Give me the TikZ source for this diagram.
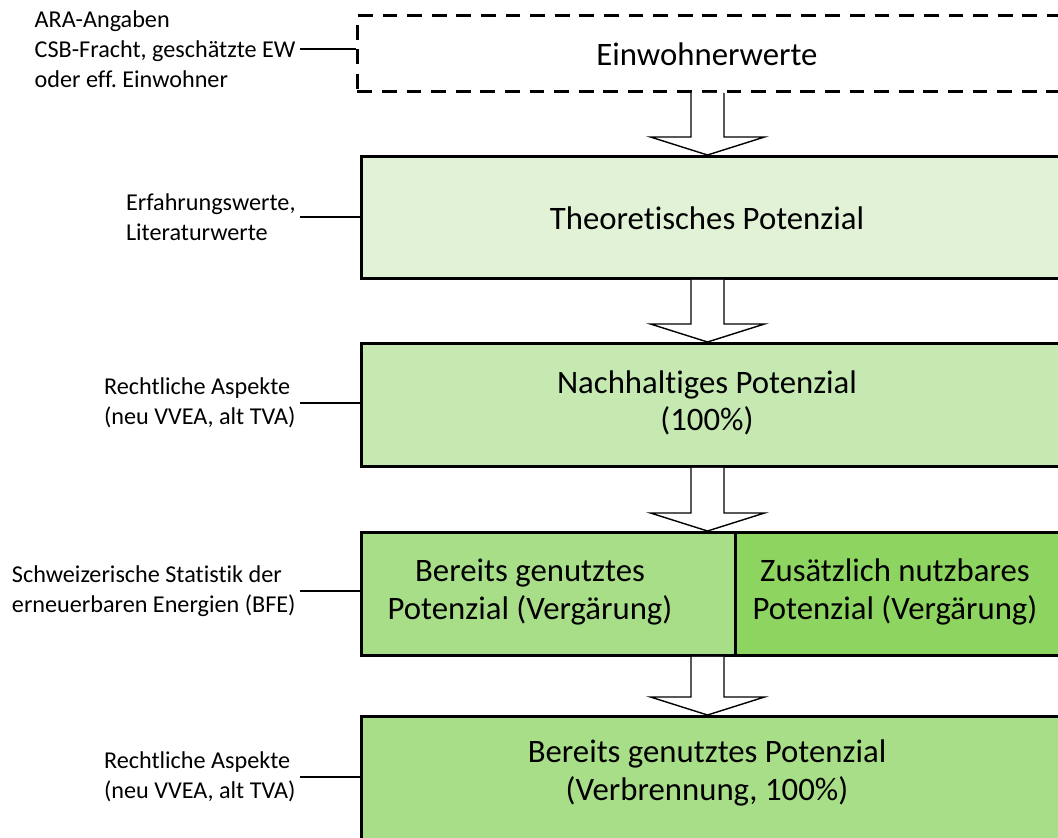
\documentclass[tikz,border=0pt]{standalone}
\usepackage{fontspec}
\setmainfont{Carlito}[Ligatures={NoCommon}]
\usetikzlibrary{calc}
\frenchspacing
\definecolor{cTheo}{HTML}{E2F2D6}
\definecolor{cNach}{HTML}{C6E9B2}
\definecolor{cBer}{HTML}{A9DE88}
\definecolor{cZus}{HTML}{8ED460}
\newcommand\blockarrow[2]{%
  \draw[barrow] ($(#1.south -| ax)+(-16.5,0)$) -- ($(#2.north -| ax)+(-16.5,-18)$)
    -- ($(#2.north -| ax)+(-57,-18)$) -- (#2.north -| ax)
    -- ($(#2.north -| ax)+(57,-18)$) -- ($(#2.north -| ax)+(16.5,-18)$)
    -- ($(#1.south -| ax)+(16.5,0)$);}
\begin{document}
\begin{tikzpicture}[x=0.025cm,y=-0.025cm,
  box/.style={draw=black, line width=2pt, inner sep=0pt, anchor=north west},
  big/.style={font=\fontsize{23.3}{26.5}\selectfont, align=center, inner sep=0pt},
  small/.style={font=\fontsize{17.2}{21.3}\selectfont, align=left, inner xsep=3pt, inner ysep=0pt, anchor=east},
  lead/.style={line width=1pt},
  barrow/.style={draw=black, fill=white, line width=1pt, line join=miter}]
\useasboundingbox (0,0) rectangle (1058,837);
\clip (0,0) rectangle (1058,837);
\coordinate (ax) at (707.5,0);
% box outlines (as named nodes)
\node[box, line width=2pt, dash pattern=on 10.5pt off 7pt, minimum width=18cm, minimum height=1.9cm] (b1) at (356,14) {};
\node[box, fill=cTheo, minimum width=17.75cm, minimum height=3.05cm] (b2) at (360,155) {};
\node[box, fill=cNach, minimum width=17.75cm, minimum height=3.075cm] (b3) at (360,342) {};
\node[box, fill=cBer, minimum width=9.35cm, minimum height=3.075cm] (b4a) at (360,531) {};
\node[box, fill=cZus, minimum width=8.4cm, minimum height=3.075cm] (b4b) at (734,531) {};
\node[box, fill=cBer, minimum width=17.75cm, minimum height=3.75cm] (b5) at (360,715) {};
% block arrows
\blockarrow{b1}{b2}
\blockarrow{b2}{b3}
\blockarrow{b3}{b4a}
\blockarrow{b4a}{b5}
% box texts
\node[big] (t1) at (707,54) {Einwohnerwerte};
\node[big] (t2) at (707,218) {Theoretisches Potenzial};
\node[big] (t3) at (707,403) {Nachhaltiges Potenzial\\(100\%)};
\node[big] (t4a) at (530,592) {Bereits genutztes\\Potenzial (Vergärung)};
\node[big] (t4b) at (895,592) {Zusätzlich nutzbares\\Potenzial (Vergärung)};
\node[big] (t5) at (707,773) {Bereits genutztes Potenzial\\(Verbrennung, 100\%)};
% side labels
\node[small] (l1) at (300,49) {ARA-Angaben\\CSB-Fracht, geschätzte EW\\oder eff. Einwohner};
\node[small] (l2) at (300,217) {Erfahrungswerte,\\Literaturwerte};
\node[small] (l3) at (300,403) {Rechtliche Aspekte\\(neu VVEA, alt TVA)};
\node[small] (l4) at (300,591) {Schweizerische Statistik der\\erneuerbaren Energien (BFE)};
\node[small] (l5) at (300,777) {Rechtliche Aspekte\\(neu VVEA, alt TVA)};
\draw[lead] (l1.east) -- (b1.west |- l1.east);
\draw[lead] (l2.east) -- (b2.west |- l2.east);
\draw[lead] (l3.east) -- (b3.west |- l3.east);
\draw[lead] (l4.east) -- (b4a.west |- l4.east);
\draw[lead] (l5.east) -- (b5.west |- l5.east);
\end{tikzpicture}
\end{document}
